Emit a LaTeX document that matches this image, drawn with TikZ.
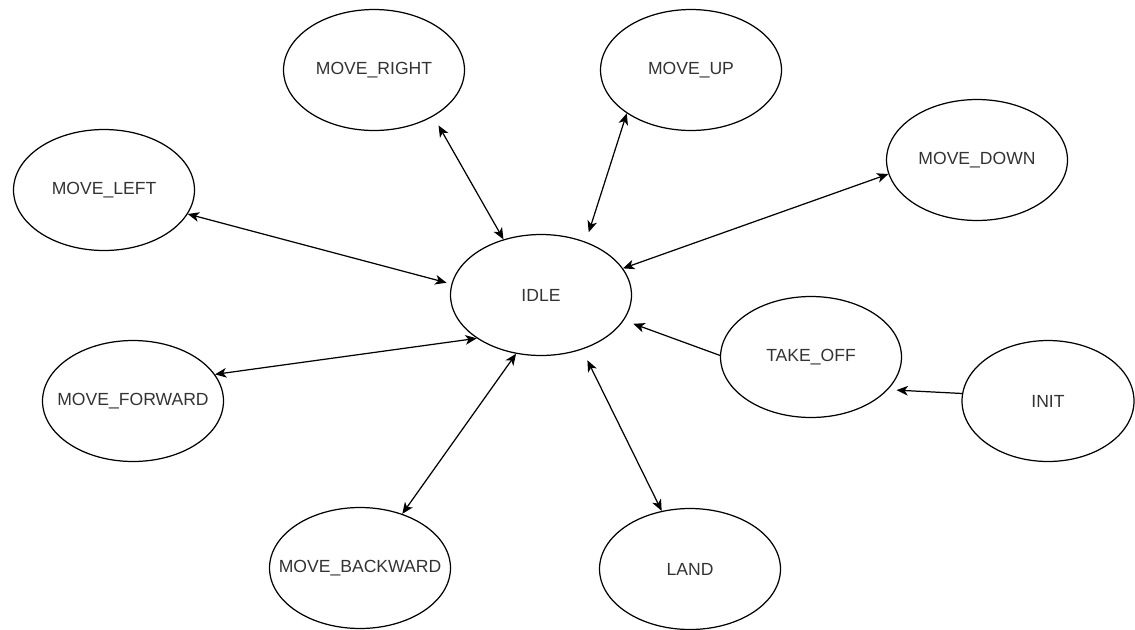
\documentclass[tikz,border=0pt]{standalone}
\usepackage{fontspec}
\setmainfont{Liberation Sans}
\definecolor{gray1}{HTML}{333333}
\usepackage{tikz}
\usetikzlibrary{shapes.geometric, arrows.meta}

\begin{document}
\begin{tikzpicture}[x=0.02cm, y=-0.02cm,
    state/.style={ellipse, draw, line width=0.7pt, minimum width=3.62cm, minimum height=2.42cm, inner sep=0pt},
    every label/.style={font=\fontsize{10}{12}\selectfont, text=gray1, inner sep=0pt},
    link/.style={line width=0.7pt, arrows={-Stealth[length=6.5pt, width=5.5pt, inset=1.8pt]}},
    biglink/.style={link, arrows={Stealth[length=6.5pt, width=5.5pt, inset=1.8pt]-Stealth[length=6.5pt, width=5.5pt, inset=1.8pt]}}]
  \useasboundingbox (0,0) rectangle (1135,629);

  % states
  \node[state, label=center:IDLE] (idle) at (541,295) {};
  \node[state, label=center:MOVE\_RIGHT] (mright) at (374,70) {};
  \node[state, label=center:MOVE\_UP] (mup) at (691,70) {};
  \node[state, label=center:MOVE\_DOWN] (mdown) at (977,160) {};
  \node[state, label=center:MOVE\_LEFT] (mleft) at (104,190) {};
  \node[state, label=center:TAKE\_OFF] (takeoff) at (811,357) {};
  \node[state, minimum width=3.44cm, label=center:INIT] (init) at (1048,401) {};
  \node[state, label=center:MOVE\_FORWARD] (mforward) at (133,401) {};
  \node[state, label=center:MOVE\_BACKWARD] (mbackward) at (360,568) {};
  \node[state, label=center:LAND] (land) at (690,569) {};

  % transitions
  \draw[biglink, shorten <=0.21cm] (mright.-38) -- (idle.124);
  \draw[biglink, shorten >=0.2cm] (mup.214) -- (idle.50);
  \draw[biglink] (mdown.189) -- (idle.18);
  \draw[biglink, shorten >=0.1cm] (mleft.-16) -- (idle.173);
  \draw[biglink] (mforward.18) -- (idle.214);
  \draw[biglink] (mbackward.52) -- (idle.247);
  \draw[biglink, shorten >=0.24cm] (land.116) -- (idle.-53);
  \draw[link, shorten >=0.2cm] (takeoff.179) -- (idle.-17);
  \draw[link, shorten >=0.17cm] (init.175) -- (takeoff.-23);
\end{tikzpicture}
\end{document}
